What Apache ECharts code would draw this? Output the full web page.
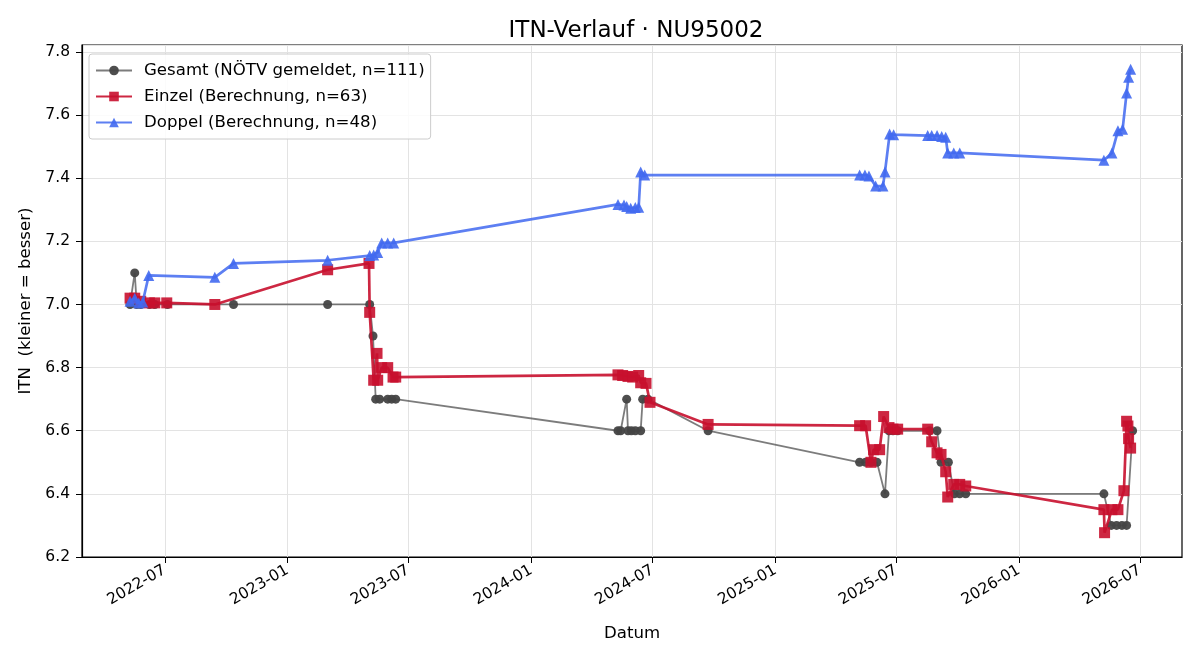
<!DOCTYPE html>
<html>
<head>
<meta charset="utf-8">
<script src="https://cdn.jsdelivr.net/npm/echarts@6/dist/echarts.min.js"></script>
<style>
  html, body { margin: 0; padding: 0; background: #fff; }
  #chart { width: 1200px; height: 660px; }
</style>
</head>
<body>
<div id="chart"></div>
<script>
// Gesamt (NÖTV gemeldet)
var gesamtDates = ['2022-05-10','2022-05-17','2022-05-20','2022-05-26','2022-06-08','2022-06-16','2022-07-05','2022-10-12',
  '2023-03-02','2023-05-04','2023-05-09','2023-05-13','2023-05-19','2023-05-31','2023-06-06','2023-06-12',
  '2024-05-10','2024-05-14','2024-05-23','2024-05-25','2024-05-30','2024-06-05','2024-06-13','2024-06-16','2024-06-24','2024-09-22',
  '2025-05-07','2025-05-16','2025-05-24','2025-06-02','2025-06-14','2025-06-20','2025-06-26','2025-07-03','2025-08-20','2025-08-31',
  '2025-09-06','2025-09-17','2025-09-26','2025-10-04','2025-10-13',
  '2026-05-08','2026-05-19','2026-05-27','2026-06-04','2026-06-11','2026-06-20'];
var gesamtVals = [7.0,7.1,7.0,7.0,7.0,7.0,7.0,7.0,
  7.0,7.0,6.9,6.7,6.7,6.7,6.7,6.7,
  6.6,6.6,6.7,6.6,6.6,6.6,6.6,6.7,6.7,6.6,
  6.5,6.5,6.5,6.5,6.4,6.6,6.6,6.6,6.6,6.6,
  6.5,6.5,6.4,6.4,6.4,
  6.4,6.3,6.3,6.3,6.3,6.6];

// Einzel (Berechnung)
var einzelDates = ['2022-05-10','2022-05-17','2022-05-26','2022-06-08','2022-06-16','2022-07-04','2022-09-14',
  '2023-03-02','2023-05-03','2023-05-04','2023-05-10','2023-05-15','2023-05-16','2023-05-22','2023-05-31','2023-06-08','2023-06-12',
  '2024-05-10','2024-05-17','2024-05-25','2024-06-01','2024-06-10','2024-06-13','2024-06-21','2024-06-27','2024-09-22',
  '2025-05-07','2025-05-16','2025-05-24','2025-05-28','2025-06-06','2025-06-12','2025-06-20','2025-06-26','2025-07-03',
  '2025-08-17','2025-08-23','2025-08-31','2025-09-06','2025-09-13','2025-09-16','2025-09-25','2025-10-04','2025-10-13',
  '2026-05-08','2026-05-09','2026-05-20','2026-05-29','2026-06-07','2026-06-11','2026-06-13','2026-06-14','2026-06-17'];
var einzelVals = [7.02,7.02,7.01,7.005,7.005,7.005,7.0,
  7.11,7.13,6.975,6.76,6.845,6.76,6.8,6.8,6.77,6.77,
  6.777,6.775,6.772,6.77,6.775,6.752,6.75,6.69,6.62,
  6.616,6.616,6.5,6.54,6.54,6.645,6.61,6.605,6.605,
  6.605,6.565,6.53,6.525,6.47,6.39,6.43,6.43,6.425,
  6.35,6.277,6.35,6.35,6.41,6.63,6.615,6.575,6.545];

// Doppel (Berechnung)
var doppelDates = ['2022-05-10','2022-05-17','2022-05-23','2022-05-29','2022-06-07','2022-09-14','2022-10-12',
  '2023-03-02','2023-05-04','2023-05-10','2023-05-16','2023-05-22','2023-05-31','2023-06-09',
  '2024-05-10','2024-05-19','2024-05-23','2024-05-29','2024-06-05','2024-06-10','2024-06-13','2024-06-19',
  '2025-05-07','2025-05-15','2025-05-21','2025-05-31','2025-06-11','2025-06-14','2025-06-21','2025-06-27',
  '2025-08-17','2025-08-23','2025-08-31','2025-09-07','2025-09-13','2025-09-16','2025-09-25','2025-10-04',
  '2026-05-08','2026-05-20','2026-05-29','2026-06-05','2026-06-11','2026-06-14','2026-06-17'];
var doppelVals = [7.01,7.02,7.005,7.008,7.092,7.086,7.13,
  7.14,7.155,7.157,7.165,7.195,7.195,7.195,
  7.317,7.315,7.31,7.305,7.307,7.308,7.42,7.41,
  7.41,7.41,7.407,7.375,7.375,7.42,7.54,7.538,
  7.535,7.535,7.535,7.532,7.53,7.48,7.48,7.48,
  7.457,7.48,7.55,7.555,7.67,7.72,7.745];

var xTicks = ['2022-07-01','2023-01-01','2023-07-01','2024-01-01','2024-07-01','2025-01-01','2025-07-01','2026-01-01','2026-07-01'];

function ts(s) { return Date.parse(s + 'T00:00:00Z'); }
function pairs(d, v) {
  return d.map(function (x, i) { return [ts(x), v[i]]; });
}
function ym(v) {
  var d = new Date(v);
  var m = d.getUTCMonth() + 1;
  return d.getUTCFullYear() + '-' + (m < 10 ? '0' + m : m);
}

var tickVals = xTicks.map(ts);
var font = 'DejaVu Sans';
var chart = echarts.init(document.getElementById('chart'));

var option = {
  animation: false,
  backgroundColor: '#fff',
  title: {
    text: 'ITN-Verlauf · NU95002',
    left: 631, top: 15, textAlign: 'center',
    textStyle: { fontFamily: font, fontSize: 23, fontWeight: 'normal', color: '#000' }
  },
  legend: {
    orient: 'vertical',
    left: 89, top: 54,
    padding: [8, 6, 8, 6],
    itemGap: 9,
    itemWidth: 36, itemHeight: 12,
    backgroundColor: 'rgba(255,255,255,0.85)',
    borderColor: '#cccccc', borderWidth: 1, borderRadius: 3,
    textStyle: { fontFamily: font, fontSize: 16.6, color: '#000', padding: [0, 0, 0, 7] },
    data: ['Gesamt (NÖTV gemeldet, n=111)', 'Einzel (Berechnung, n=63)', 'Doppel (Berechnung, n=48)']
  },
  grid: {
    left: 82, right: 18, top: 45, bottom: 103,
    show: true, borderColor: '#000', borderWidth: 1.2
  },
  xAxis: {
    type: 'value',
    min: ts('2022-02-27'), max: ts('2026-09-02'),
    name: 'Datum', nameLocation: 'middle', nameGap: 68,
    nameTextStyle: { fontFamily: font, fontSize: 16.6, color: '#000' },
    axisLine: { show: true, onZero: false, lineStyle: { color: '#000', width: 1.2 } },
    axisTick: { show: true, length: 6, lineStyle: { color: '#000' }, customValues: tickVals },
    axisLabel: {
      customValues: tickVals,
      rotate: 30, margin: 12,
      fontFamily: font, fontSize: 15.5, color: '#000',
      formatter: ym
    },
    splitLine: { show: true, lineStyle: { color: '#e3e3e3', width: 1 } }
  },
  yAxis: {
    type: 'value',
    min: 6.2, max: 7.822, interval: 0.2,
    name: 'ITN  (kleiner = besser)', nameLocation: 'middle', nameGap: 48,
    nameTextStyle: { fontFamily: font, fontSize: 16.6, color: '#000' },
    axisLine: { show: true, lineStyle: { color: '#000', width: 1.2 } },
    axisTick: { show: true, length: 6, lineStyle: { color: '#000' } },
    axisLabel: {
      showMaxLabel: false, margin: 12,
      fontFamily: font, fontSize: 15.5, color: '#000',
      formatter: function (v) { return v.toFixed(1); }
    },
    splitLine: { show: true, lineStyle: { color: '#e3e3e3', width: 1 } }
  },
  series: [
    {
      name: 'Gesamt (NÖTV gemeldet, n=111)',
      type: 'line',
      data: pairs(gesamtDates, gesamtVals),
      symbol: 'circle', symbolSize: 9, showAllSymbol: true,
      lineStyle: { color: '#444444', width: 1.8, opacity: 0.7 },
      itemStyle: { color: '#444444', opacity: 0.95 },
      z: 2
    },
    {
      name: 'Einzel (Berechnung, n=63)',
      type: 'line',
      data: pairs(einzelDates, einzelVals),
      symbol: 'rect', symbolSize: 11, showAllSymbol: true,
      lineStyle: { color: '#c8102e', width: 2.7, opacity: 0.9 },
      itemStyle: { color: '#c8102e', opacity: 0.9 },
      z: 3
    },
    {
      name: 'Doppel (Berechnung, n=48)',
      type: 'line',
      data: pairs(doppelDates, doppelVals),
      symbol: 'triangle', symbolSize: 11, showAllSymbol: true,
      lineStyle: { color: '#4169f0', width: 2.7, opacity: 0.85 },
      itemStyle: { color: '#4169f0', opacity: 0.9 },
      z: 4
    }
  ]
};

chart.setOption(option);
</script>
</body>
</html>
